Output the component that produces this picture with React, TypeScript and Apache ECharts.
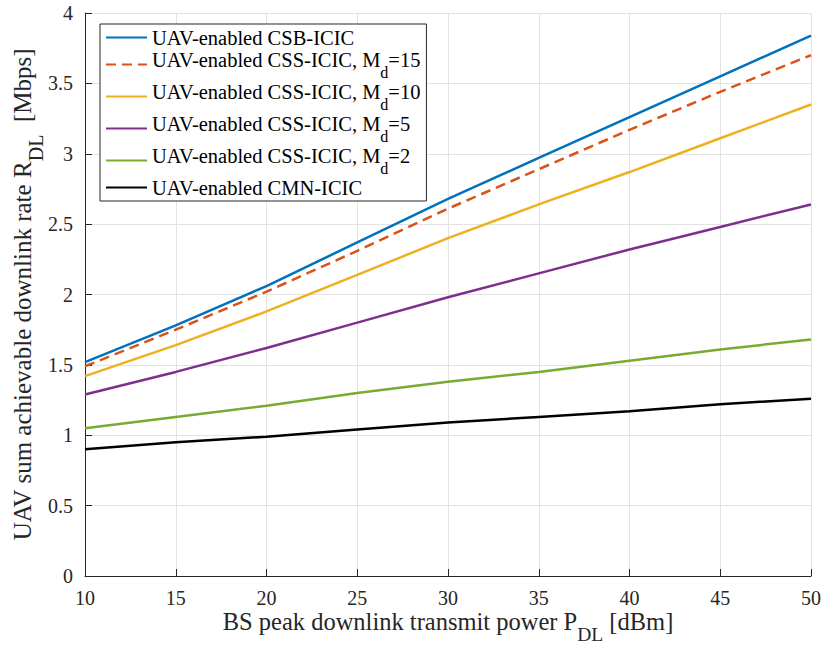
import React, { useEffect, useRef } from "react";
import * as echarts from "echarts";

const powers = [10, 15, 20, 25, 30, 35, 40, 45, 50];
const csb = [1.52, 1.78, 2.06, 2.37, 2.68, 2.97, 3.26, 3.55, 3.84];
const css15 = [1.49, 1.75, 2.02, 2.31, 2.61, 2.89, 3.17, 3.44, 3.7];
const css10 = [1.42, 1.64, 1.88, 2.14, 2.4, 2.64, 2.87, 3.11, 3.35];
const css5 = [1.29, 1.45, 1.62, 1.8, 1.98, 2.15, 2.32, 2.48, 2.64];
const css2 = [1.05, 1.13, 1.21, 1.3, 1.38, 1.45, 1.53, 1.61, 1.68];
const cmn = [0.9, 0.95, 0.99, 1.04, 1.09, 1.13, 1.17, 1.22, 1.26];

const seriesNames = [
  "UAV-enabled CSB-ICIC",
  "UAV-enabled CSS-ICIC, M_d=15",
  "UAV-enabled CSS-ICIC, M_d=10",
  "UAV-enabled CSS-ICIC, M_d=5",
  "UAV-enabled CSS-ICIC, M_d=2",
  "UAV-enabled CMN-ICIC",
];
const colors = ["#0072BD", "#D95319", "#EDB120", "#7E2F8E", "#77AC30", "#000000"];
const seriesData = [csb, css15, css10, css5, css2, cmn];

const FONT = "Liberation Serif";

export default function App() {
  const ref = useRef<HTMLDivElement>(null);
  useEffect(() => {
    const chart = echarts.init(ref.current!, undefined, { renderer: "svg" });
    const tickLabel = {
      fontFamily: FONT,
      fontSize: 20,
      fontWeight: "normal",
      color: "#262626",
      margin: 12,
    };
    chart.setOption({
      animation: false,
      backgroundColor: "#fff",
      color: colors,
      textStyle: { fontFamily: FONT },
      grid: { left: 85, right: 12, top: 13, bottom: 73, containLabel: false, outerBoundsMode: "none" },
      legend: {
        orient: "vertical",
        left: 100,
        top: 24,
        padding: [3, 6, 3, 5],
        itemGap: 1,
        itemWidth: 41,
        itemHeight: 14,
        borderColor: "#262626",
        borderWidth: 1,
        borderRadius: 0,
        backgroundColor: "#fff",
        itemStyle: { opacity: 0 },
        data: seriesNames,
        formatter: (name: string) => {
          const idx = name.indexOf("M_d");
          if (idx < 0) return `{n|${name}}`;
          return `{n|${name.slice(0, idx)}M}{s|d}{n|${name.slice(idx + 3)}}`;
        },
        textStyle: {
          fontFamily: FONT,
          fontSize: 20.5,
          color: "#000",
          rich: {
            n: { fontFamily: FONT, fontSize: 20.5, color: "#000", lineHeight: 21, verticalAlign: "top" },
            s: { fontFamily: FONT, fontSize: 16, color: "#000", lineHeight: 31, verticalAlign: "bottom" },
          },
        },
      },
      xAxis: {
        type: "value",
        min: 10,
        max: 50,
        interval: 5,
        name: "{n|BS peak downlink transmit power P}{s|DL}{n| [dBm]}",
        nameLocation: "middle",
        nameGap: 33,
        nameMoveOverlap: false,
        nameTextStyle: {
          rich: {
            n: { fontFamily: FONT, fontSize: 24.5, color: "#262626", lineHeight: 25, verticalAlign: "top" },
            s: { fontFamily: FONT, fontSize: 19.5, color: "#262626", lineHeight: 35, verticalAlign: "bottom" },
          },
        },
        axisLine: { show: true, lineStyle: { color: "#262626", width: 1 } },
        axisTick: { show: true, inside: true, length: 7, lineStyle: { color: "#262626" } },
        axisLabel: tickLabel,
        splitLine: { show: true, lineStyle: { color: "#e3e3e3", width: 1 } },
      },
      yAxis: {
        type: "value",
        min: 0,
        max: 4,
        interval: 0.5,
        name: "{n|UAV sum achievable downlink rate R}{s|DL}{n|  [Mbps]}",
        nameLocation: "middle",
        nameGap: 39,
        nameMoveOverlap: false,
        nameTextStyle: {
          rich: {
            n: { fontFamily: FONT, fontSize: 25, color: "#262626", lineHeight: 26, verticalAlign: "top" },
            s: { fontFamily: FONT, fontSize: 20, color: "#262626", lineHeight: 36, verticalAlign: "bottom" },
          },
        },
        axisLine: { show: true, lineStyle: { color: "#262626", width: 1 } },
        axisTick: { show: true, inside: true, length: 7, lineStyle: { color: "#262626" } },
        axisLabel: tickLabel,
        splitLine: { show: true, lineStyle: { color: "#e3e3e3", width: 1 } },
      },
      series: seriesNames.map((name, i) => ({
        name,
        type: "line",
        symbol: "none",
        smooth: false,
        data: powers.map((p, j) => [p, seriesData[i][j]]),
        lineStyle: {
          color: colors[i],
          width: 2.5,
          type: i === 1 ? [10, 6] : "solid",
        },
        itemStyle: { color: colors[i] },
        z: 10 - i,
      })),
    });
    return () => chart.dispose();
  }, []);
  return <div ref={ref} style={{ width: 823, height: 649, position: "absolute", left: 0, top: 0 }} />;
}
